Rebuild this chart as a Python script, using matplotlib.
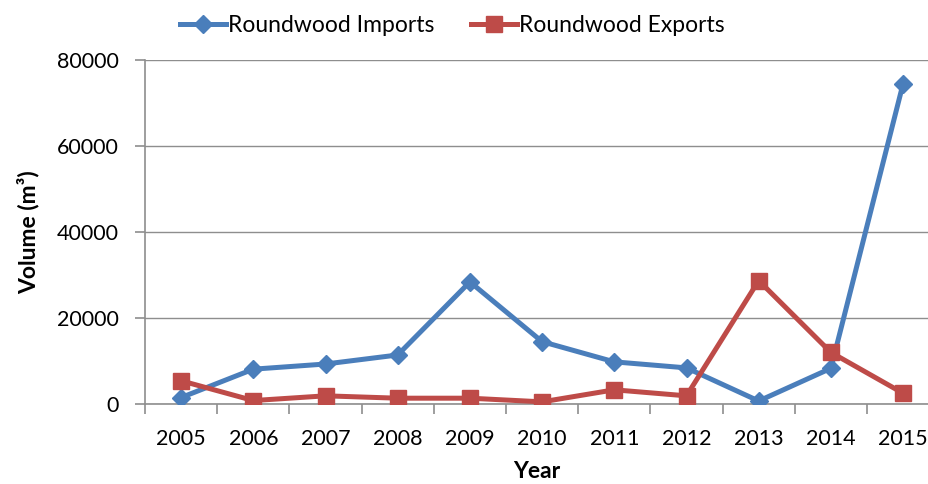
import matplotlib
matplotlib.use("Agg")
import matplotlib.pyplot as plt
from matplotlib.ticker import FixedLocator

plt.rcParams['font.family'] = ['Lato', 'DejaVu Sans']

years = [2005, 2006, 2007, 2008, 2009, 2010, 2011, 2012, 2013, 2014, 2015]
imports = [1500, 8100, 9300, 11400, 28400, 14500, 9800, 8400, 700, 8300, 74500]
exports = [5400, 800, 1900, 1350, 1350, 500, 3300, 1900, 28700, 12000, 2500]
yticks = [0, 20000, 40000, 60000, 80000]

fig = plt.figure(figsize=(9.29, 4.84), dpi=100)
ax = fig.add_axes([145/929, 80/484, 1 - 145/929, 344/484])

blue = '#4A7EBB'
red = '#BE4B48'
ax.plot(years, imports, color=blue, lw=3.6, marker='D', ms=9, label='Roundwood Imports', zorder=3)
ax.plot(years, exports, color=red, lw=3.6, marker='s', ms=11, label='Roundwood Exports', zorder=3)

ax.set_ylim(0, 80000)
ax.set_xlim(2004.5, 2004.5 + (929 - 145) / 72.2)
ax.set_yticks(yticks)
ax.set_yticklabels([str(v) for v in yticks])
ax.set_xticks(years)
ax.set_xticklabels([str(y) for y in years])
ax.xaxis.set_minor_locator(FixedLocator([y + 0.5 for y in [2004] + years]))

gray = '#8E8E8E'
ax.grid(axis='y', color=gray, lw=1.0, zorder=0)
for s in ['top', 'right']:
    ax.spines[s].set_visible(False)
for s in ['left', 'bottom']:
    ax.spines[s].set_color(gray)
    ax.spines[s].set_linewidth(1.2)

ax.tick_params(axis='y', length=7, width=1.2, color=gray, labelsize=15.5, pad=12)
ax.tick_params(axis='x', which='major', length=0, labelsize=15.5, pad=18)
ax.tick_params(axis='x', which='minor', length=7, width=1.2, color=gray)

ax.set_ylabel('Volume (m³)', fontsize=16.5, fontweight='bold', labelpad=12)
ax.set_xlabel('Year', fontsize=16.5, fontweight='bold')
ax.xaxis.set_label_coords(0.5, -0.165)

fig.legend(loc='upper center', bbox_to_anchor=(0.487, 1.012), ncol=2, frameon=False,
           fontsize=16.5, handlelength=2.0, columnspacing=1.6, handletextpad=0.1)

fig.savefig('out.png', dpi=100)
